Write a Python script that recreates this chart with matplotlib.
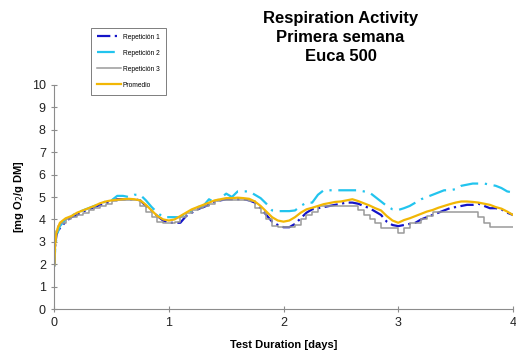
import matplotlib.pyplot as plt
import numpy as np

plt.rcParams['font.family'] = ['Liberation Sans', 'DejaVu Sans']

# sampling grid (days)
days = [0.0, 0.01, 0.02, 0.03] + [round(0.05 * i, 2) for i in range(1, 81)]

rep1 = [2.0, 2.9, 3.3, 3.5, 3.6, 3.9, 4.1, 4.2, 4.35, 4.45, 4.55, 4.65, 4.7, 4.85, 4.9, 4.9, 4.9, 4.9,
        4.85, 4.6, 4.4, 4.15, 3.95, 3.85, 3.85, 3.85, 4.15, 4.3, 4.45, 4.55, 4.65, 4.8, 4.85, 4.9,
        4.9, 4.9, 4.9, 4.85, 4.75, 4.5, 4.2, 3.9, 3.75, 3.65, 3.65, 3.8, 4.05, 4.3, 4.45, 4.5, 4.55,
        4.6, 4.65, 4.7, 4.75, 4.75, 4.7, 4.6, 4.5, 4.35, 4.2, 3.9, 3.75, 3.7, 3.75, 3.8, 3.85, 4.0,
        4.1, 4.2, 4.3, 4.4, 4.5, 4.55, 4.6, 4.65, 4.65, 4.7, 4.6, 4.5, 4.5, 4.45, 4.3, 4.2]

rep2 = [1.9, 2.8, 3.2, 3.4, 3.7, 4.0, 4.15, 4.3, 4.4, 4.5, 4.6, 4.7, 4.8, 4.85, 5.05, 5.05, 5.0, 5.1,
        5.1, 4.85, 4.55, 4.3, 4.1, 4.1, 4.1, 4.1, 4.3, 4.35, 4.55, 4.6, 4.9, 4.75, 4.95, 5.15, 5.0,
        5.25, 5.25, 5.25, 5.1, 4.95, 4.7, 4.4, 4.37, 4.37, 4.37, 4.4, 4.6, 4.75, 4.75, 5.1, 5.3, 5.3,
        5.3, 5.3, 5.3, 5.3, 5.3, 5.25, 5.2, 5.0, 4.8, 4.6, 4.45, 4.42, 4.5, 4.6, 4.75, 4.9, 5.0,
        5.1, 5.2, 5.3, 5.3, 5.35, 5.5, 5.55, 5.6, 5.6, 5.6, 5.55, 5.5, 5.4, 5.25, 5.2]

rep3 = [1.9, 3.0, 3.5, 3.7, 3.85, 4.0, 4.1, 4.2, 4.3, 4.4, 4.5, 4.6, 4.7, 4.8, 4.85, 4.85, 4.85, 4.85,
        4.6, 4.35, 4.1, 3.9, 3.85, 3.85, 3.9, 4.1, 4.3, 4.4, 4.5, 4.6, 4.7, 4.8, 4.85, 4.85, 4.85,
        4.85, 4.85, 4.8, 4.5, 4.3, 4.0, 3.7, 3.67, 3.67, 3.67, 3.75, 4.0, 4.2, 4.35, 4.6, 4.6, 4.6,
        4.6, 4.6, 4.6, 4.6, 4.4, 4.2, 4.0, 3.85, 3.6, 3.6, 3.6, 3.4, 3.6, 3.85, 3.85, 4.0, 4.15,
        4.35, 4.35, 4.35, 4.35, 4.35, 4.35, 4.35, 4.35, 4.1, 3.85, 3.65, 3.65, 3.65, 3.65, 3.65]

promedio = [2.0, 3.0, 3.4, 3.6, 3.85, 4.05, 4.15, 4.3, 4.4, 4.5, 4.6, 4.72, 4.8, 4.85, 4.88, 4.9, 4.92,
            4.9, 4.85, 4.65, 4.4, 4.15, 4.0, 3.95, 4.0, 4.15, 4.3, 4.45, 4.55, 4.65, 4.75, 4.85, 4.9,
            4.95, 4.95, 4.97, 4.95, 4.92, 4.8, 4.6, 4.35, 4.1, 3.95, 3.9, 3.95, 4.1, 4.3, 4.45, 4.52,
            4.6, 4.68, 4.73, 4.78, 4.8, 4.85, 4.9, 4.82, 4.72, 4.62, 4.5, 4.4, 4.15, 3.95, 3.85, 3.97,
            4.05, 4.15, 4.25, 4.35, 4.42, 4.52, 4.6, 4.68, 4.75, 4.8, 4.8, 4.78, 4.75, 4.7, 4.65, 4.55,
            4.48, 4.35, 4.2]

fig = plt.figure(figsize=(5.16, 3.54), dpi=100)
ax = fig.add_axes([0.105, 0.127, 0.889, 0.633])

ax.plot(days, rep1, color='#1414C8', lw=1.6, dashes=(6, 2, 1, 2), label='Repetición 1')
ax.plot(days, rep2, color='#22C4EE', lw=1.6, dashes=(8, 3, 1, 3), label='Repetición 2')
ax.plot(days, rep3, color='#9A9A9A', lw=1.1, drawstyle='steps-post', label='Repetición 3')
ax.plot(days, promedio, color='#F2B705', lw=1.6, label='Promedio')

ax.set_xlim(0, 4)
ax.set_ylim(0, 10)
ax.set_xticks([0, 1, 2, 3, 4])
ax.set_yticks(range(0, 11))
for s in ['top', 'right']:
    ax.spines[s].set_visible(False)
for s in ['left', 'bottom']:
    ax.spines[s].set_color('#8C8C8C')
    ax.spines[s].set_linewidth(0.8)
ax.tick_params(direction='inout', length=5, width=0.8, color='#8C8C8C', labelsize=9,
               labelcolor='#222222')

ax.set_xlabel('Test Duration [days]', fontsize=8, fontweight='bold', labelpad=8)
ax.set_ylabel('[mg O$_2$/g DM]', fontsize=8, fontweight='bold', labelpad=4)

fig.text(0.66, 0.968, 'Respiration Activity\nPrimera semana\nEuca 500', ha='center', va='top',
         fontsize=12, fontweight='bold', linespacing=1.3)

leg = fig.legend(loc='upper left', bbox_to_anchor=(0.176, 0.922), fontsize=4.8, frameon=True,
                 fancybox=False, edgecolor='#444444', handlelength=3.6, borderpad=0.9,
                 labelspacing=1.35, handletextpad=0.3, borderaxespad=0)
leg.get_frame().set_linewidth(0.6)

fig.savefig('out.png', dpi=100)
